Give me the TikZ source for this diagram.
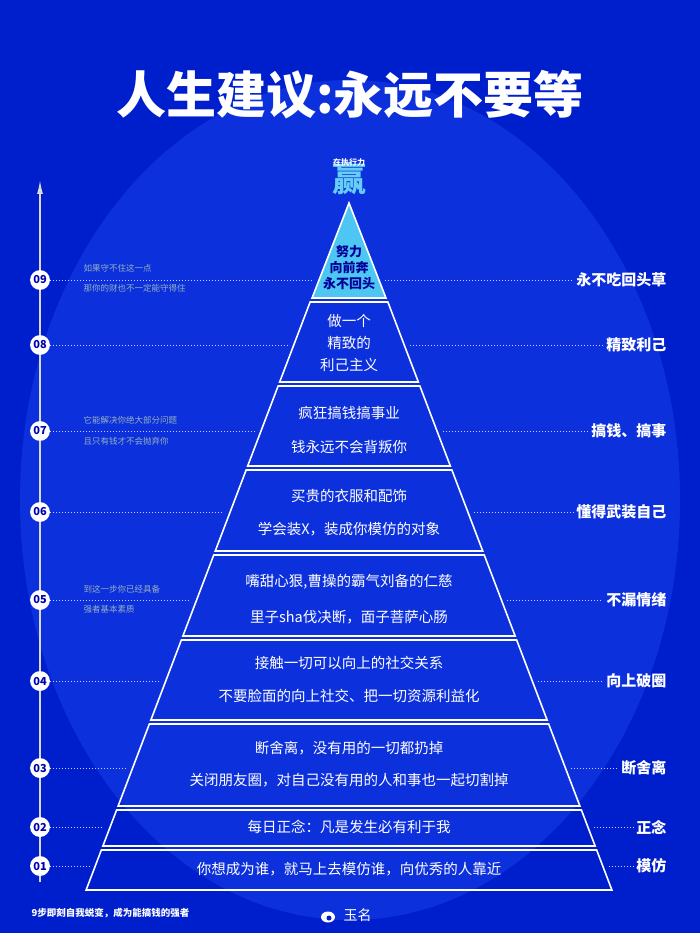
\documentclass[tikz,border=0pt]{standalone}
\usepackage{fontspec}
\setmainfont{Noto Sans CJK SC}
\usetikzlibrary{arrows.meta}
\begin{document}
\begin{tikzpicture}[x=1pt,y=-1pt,
    band/.style={draw=white,line width=1.6pt},
    stepnum/.style={circle,draw=none,fill=white,text=blue!70!black,font=\bfseries\fontsize{11}{11}\selectfont,inner sep=1.5pt,minimum size=19pt},
    tag/.style={anchor=east,text=white,font=\bfseries\fontsize{15}{15}\selectfont},
    note/.style={anchor=west,text=cyan!30!gray!80!white,font=\fontsize{8.5}{9}\selectfont},
    say/.style={text=white,font=\fontsize{14.5}{15}\selectfont,align=center},
    dots/.style={white!80!blue,dotted,line width=1pt}]
    \fill[blue!85!cyan!80!black] (0,0) rectangle (700,933);
    \useasboundingbox (0,0) rectangle (700,933);
    \fill[blue!80!cyan!85!white,opacity=.35] (350,500) ellipse (330 and 420);
    % title
    \node (title) at (350,95) {\fontsize{50}{50}\selectfont\bfseries\color{white}人生建议:永远不要等};
    \node[text=cyan!60!white,font=\bfseries\fontsize{34}{34}\selectfont] (win) at (349,178) {赢};
    \node[text=white,font=\bfseries\fontsize{8}{8}\selectfont] (exec) at (349,162) {在执行力};
    % axis
    \coordinate (top) at (40,180);
    \coordinate (bot) at (40,882);
    \draw[gray!30,line width=1.5pt,-{Latex[length=14pt,width=6pt]}] (bot) -- (top);
    % pyramid bands
    \fill[cyan!70!white] (349,203) -- (349-0.381*97,298) -- (349+0.381*97,298) -- cycle;
    \draw[band] (349,203) -- (349-0.381*97,298) -- (349+0.381*97,298) -- cycle;
    \foreach \t/\b in {302/382,386/466,470/551,555/636,640/720,724/806,810/846,850/890}{
        \draw[band] (349-0.381*\t+0.381*200,\t) -- (349+0.381*\t-0.381*200,\t)
            -- (349+0.381*\b-0.381*200,\b) -- (349-0.381*\b+0.381*200,\b) -- cycle;
    }
    % steps and tags
    \foreach \i/\y/\lab in {9/280/永不吃回头草,8/345/精致利己,7/431/搞钱、搞事,6/512/懂得武装自己,5/600/不漏情绪,4/681/向上破圈,3/768/断舍离,2/827/正念,1/866/模仿}{
        \node[stepnum] (n\i) at (40,\y) {0\i};
        \node[tag] (r\i) at (670,\y) {\lab};
        \coordinate (el\i) at (349-0.381*\y+0.381*200-6,\y);
        \coordinate (er\i) at (349+0.381*\y-0.381*200+6,\y);
        \draw[dots] (n\i) -- (el\i);
        \draw[dots] (er\i) -- (r\i);
    }
    % notes
    \node[note] (a9) at (80,268) {如果守不住这一点};
    \node[note] (b9) at (80,288) {那你的财也不一定能守得住};
    \node[note] (a7) at (80,420) {它能解决你绝大部分问题};
    \node[note] (b7) at (80,441) {且只有钱才不会抛弃你};
    \node[note] (a5) at (80,589) {到这一步你已经具备};
    \node[note] (b5) at (80,609) {强者基本素质};
    % band texts
    \node[say,text=blue!60!black,font=\bfseries\fontsize{13}{16}\selectfont] (t9) at (349,268) {努力\\向前奔\\永不回头};
    \node[say,font=\fontsize{14.5}{22}\selectfont] (t8) at (349,343) {做一个\\精致的\\利己主义};
    \node[say] (t7a) at (349,413) {疯狂搞钱搞事业};
    \node[say] (t7b) at (349,447) {钱永远不会背叛你};
    \node[say] (t6a) at (349,496) {买贵的衣服和配饰};
    \node[say] (t6b) at (349,529) {学会装X，装成你模仿的对象};
    \node[say] (t5a) at (349,582) {嘴甜心狠,曹操的霸气刘备的仁慈};
    \node[say] (t5b) at (349,617) {里子sha伐决断，面子菩萨心肠};
    \node[say] (t4a) at (349,663) {接触一切可以向上的社交关系};
    \node[say] (t4b) at (349,696) {不要脸面的向上社交、把一切资源利益化};
    \node[say] (t3a) at (349,748) {断舍离，没有用的一切都扔掉};
    \node[say] (t3b) at (349,780) {关闭朋友圈，对自己没有用的人和事也一起切割掉};
    \node[say] (t2) at (349,827) {每日正念：凡是发生必有利于我};
    \node[say] (t1) at (349,869) {你想成为谁，就马上去模仿谁，向优秀的人靠近};
    % footer
    \node[anchor=west,text=white,font=\bfseries\fontsize{9.5}{10}\selectfont] (foot) at (28,913) {9步即刻自我蜕变，成为能搞钱的强者};
    \fill[white] (328,917) ellipse (7 and 5.5);
    \fill[blue!85!cyan!80!black] (329,918) circle (2.5);
    \node[anchor=west,text=white,font=\fontsize{14}{14}\selectfont] (name) at (340,915) {玉名};
\end{tikzpicture}
\end{document}
